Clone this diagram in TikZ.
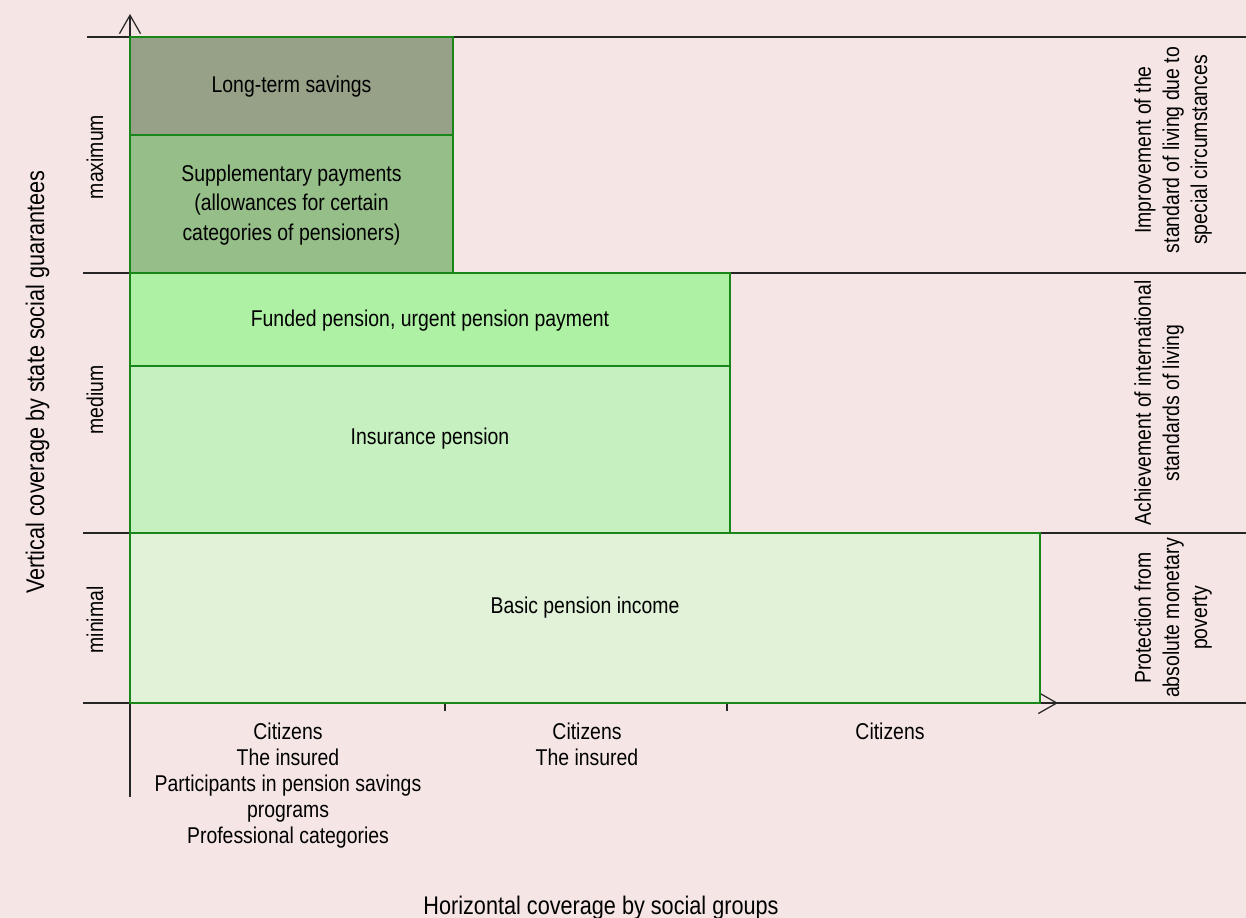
\documentclass[tikz,border=0pt]{standalone}
\usepackage{fontspec}
\setmainfont{Liberation Sans}[FakeStretch=0.85]
\usepackage{tikz}
\usetikzlibrary{arrows.meta}
\definecolor{bgpink}{RGB}{245,229,229}
\definecolor{boxline}{RGB}{24,134,24}
\definecolor{ltsavfill}{RGB}{150,161,136}
\definecolor{supplfill}{RGB}{150,190,136}
\definecolor{fundfill}{RGB}{174,240,164}
\definecolor{insfill}{RGB}{198,240,192}
\definecolor{basicfill}{RGB}{225,242,217}

\begin{document}
\begin{tikzpicture}[
  x=0.02cm, y=-0.02cm,
  level/.style = {rectangle, draw=boxline, line width=1.3pt,
                  inner sep=0pt, outer sep=0pt},
  txt/.style   = {font=\fontsize{13}{16}\selectfont, align=center,
                  inner sep=0pt},
  grp/.style   = {txt, font=\fontsize{13}{14.8}\selectfont, anchor=north},
  ttl/.style   = {font=\fontsize{14.5}{17}\selectfont, inner sep=0pt},
  axis/.style  = {line width=0.7pt, black!85},
  arr/.style   = {-{Straight Barb[length=10.5pt,width=12pt]}, axis},
]
  % Background
  \fill[bgpink] (0,0) rectangle (1246,918);
  \useasboundingbox (0,0) rectangle (1246,918);

  % Level lines and axes
  \coordinate (O)     at (130,703);
  \coordinate (ybot)  at (130,797);
  \coordinate (ytop)  at (130,14);
  \coordinate (xarr)  at (1058,703);
  \draw[axis] (87,37)  -- (1246,37);
  \draw[axis] (83,273) -- (1246,273);
  \draw[axis] (83,533) -- (1246,533);
  \draw[axis] (83,703) -- (1246,703);
  \draw[arr] (ybot) -- (ytop);
  \draw[arr] (1000,703) -- (xarr);
  \draw[axis] (445,695) -- (445,711);
  \draw[axis] (727,695) -- (727,711);

  % Boxes
  \node[level, fill=ltsavfill, minimum width=6.46cm, minimum height=1.96cm]
    (ltsav) at (291.5,86) {};
  \node[level, fill=supplfill, minimum width=6.46cm, minimum height=2.76cm]
    (suppl) at (291.5,204) {};
  \node[level, fill=fundfill, minimum width=12cm, minimum height=1.86cm]
    (fund) at (430,319.5) {};
  \node[level, fill=insfill, minimum width=12cm, minimum height=3.34cm]
    (ins) at (430,449.5) {};
  \node[level, fill=basicfill, minimum width=18.2cm, minimum height=3.4cm]
    (basic) at (585,618) {};

  % Box texts
  \node[txt] (ltsavtxt) at (291.5,87) {Long-term savings};
  \node[txt, font=\fontsize{13}{17}\selectfont] (suppltxt) at (291.5,205)
    {Supplementary payments\\(allowances for certain\\categories of pensioners)};
  \node[txt] (fundtxt)  at (430,321) {Funded pension, urgent pension payment};
  \node[txt] (instxt)   at (430,439) {Insurance pension};
  \node[txt] (basictxt) at (585,608) {Basic pension income};

  % Levels
  \node[txt, rotate=90, anchor=base] (maxlbl) at (103,157) {maximum};
  \node[txt, rotate=90, anchor=base] (medlbl) at (103,400) {medium};
  \node[txt, rotate=90, anchor=base] (minlbl) at (103,620) {minimal};

  % Goals
  \node[txt, rotate=90, anchor=north] (goalmax) at (1134,150)
    {Improvement of the\\standard of living due to\\special circumstances};
  \node[txt, rotate=90, anchor=north] (goalmed) at (1134,403)
    {Achievement of international\\standards of living};
  \node[txt, rotate=90, anchor=north] (goalmin) at (1134,618)
    {Protection from\\absolute monetary\\poverty};

  % Social groups
  \node[grp] (grp1) at (288,723)
    {Citizens\\The insured\\Participants in pension savings\\programs\\Professional categories};
  \node[grp] (grp2) at (587,723) {Citizens\\The insured};
  \node[grp] (grp3) at (890,723) {Citizens};

  % Axis titles
  \node[ttl, rotate=90, anchor=base] (ytitle) at (44,382)
    {Vertical coverage by state social guarantees};
  \node[ttl, anchor=base] (xtitle) at (601,914)
    {Horizontal coverage by social groups};
\end{tikzpicture}
\end{document}
